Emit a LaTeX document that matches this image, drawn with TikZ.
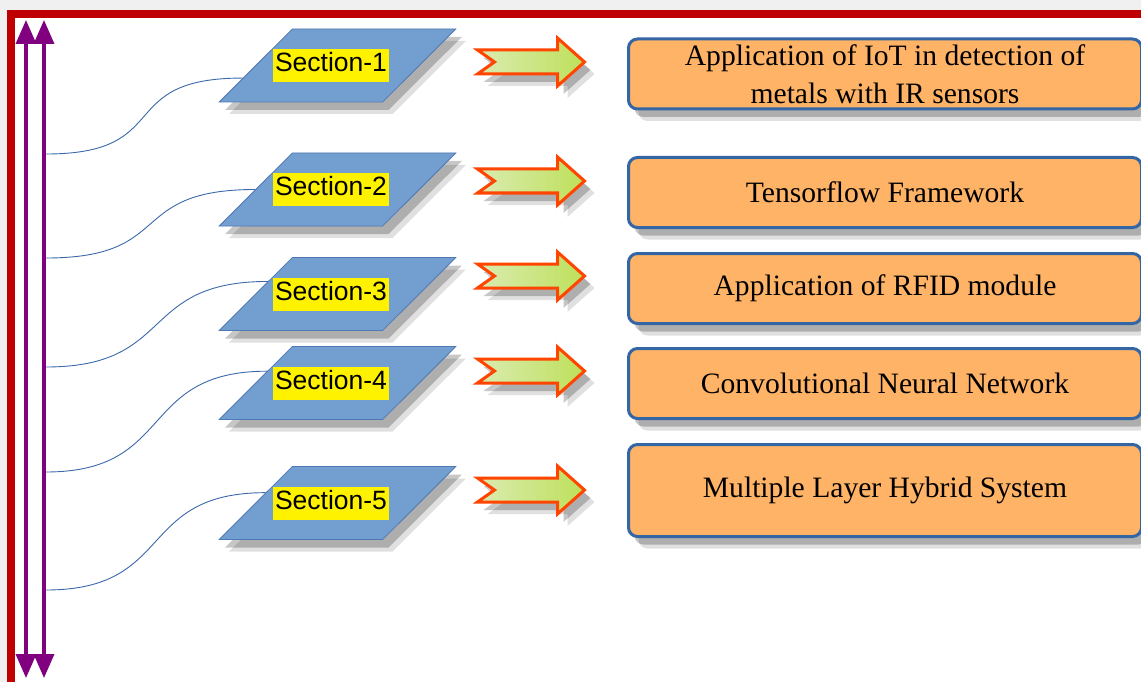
\documentclass[tikz,border=0pt]{standalone}
\usepackage{fontspec}
\setmainfont{Liberation Serif}
\setsansfont{Liberation Sans}
\usetikzlibrary{shapes.geometric,arrows.meta,shadows,calc}

\begin{document}
\begin{tikzpicture}[x=1pt,y=-1pt,
		softshadow/.style={drop shadow={shadow xshift=10pt, shadow yshift=-12pt, fill=black, opacity=.12},
			drop shadow={shadow xshift=6pt, shadow yshift=-8pt, fill=black, opacity=.22}},
		secshape/.style={trapezium, trapezium left angle=51, trapezium right angle=129, trapezium stretches=true,
			minimum width=237pt, minimum height=73pt, inner sep=5pt, fill=secblue, draw=secedge, line width=0.8pt, softshadow},
		seclabel/.style={fill=yellow, inner xsep=2pt, inner ysep=3pt, text height=20pt, text depth=7pt,
			font=\sffamily\fontsize{26.5}{30}\selectfont},
		topicbox/.style={draw=boxedge, fill=boxfill, line width=3pt, rounded corners=9pt, minimum width=513pt,
			minimum height=70pt, align=center, font=\fontsize{29.6}{38}\selectfont, softshadow},
		link/.style={draw=linkblue, line width=0.9pt},
		sidearrow/.style={draw=sidepurple, line width=3.5pt, {Triangle[length=24pt,width=20pt]}-{Triangle[length=24pt,width=20pt]}},
		blockarrow/.pic={
			\path[draw=arrowred, line width=3pt, left color=arrowgreenL, right color=arrowgreenR, softshadow]
				(-54,-12) -- (26,-12) -- (26,-24) -- (53,0) -- (26,24) -- (26,12) -- (-54,12) -- (-37,0) -- cycle;
		}]
		% Define colors
		\definecolor{framered}{RGB}{192,0,0}
		\definecolor{sidepurple}{RGB}{128,0,128}
		\definecolor{secblue}{RGB}{114,159,207}
		\definecolor{secedge}{RGB}{80,120,180}
		\definecolor{linkblue}{RGB}{60,105,170}
		\definecolor{boxfill}{RGB}{255,179,102}
		\definecolor{boxedge}{RGB}{52,101,164}
		\definecolor{arrowred}{RGB}{255,69,0}
		\definecolor{arrowgreenL}{RGB}{218,236,178}
		\definecolor{arrowgreenR}{RGB}{190,224,90}
		% Page and frame
		\useasboundingbox (0,0) rectangle (1141,682);
		\fill[gray!12] (0,0) rectangle (1141,682);
		\fill[white] (11,14) rectangle (1150,686);
		\draw[framered, line width=8pt] (11,14) rectangle (1150,686);
		% Vertical arrows on the left
		\coordinate (l1top) at (26,20);
		\coordinate (l1bot) at (26,678);
		\coordinate (l2top) at (44,20);
		\coordinate (l2bot) at (44,678);
		\draw[sidearrow] (l1top) -- (l1bot);
		\draw[sidearrow] (l2top) -- (l2bot);
		% Sections
		\node[secshape] (p1) at (337.5,65.5) {};
		\node[seclabel] (s1) at (331,65.5) {Section-1};
		\node[secshape] (p2) at (337.5,189.5) {};
		\node[seclabel] (s2) at (331,189.5) {Section-2};
		\node[secshape] (p3) at (337.5,294) {};
		\node[seclabel] (s3) at (331,294) {Section-3};
		\node[secshape] (p4) at (337.5,383) {};
		\node[seclabel] (s4) at (331,383) {Section-4};
		\node[secshape] (p5) at (337.5,503) {};
		\node[seclabel] (s5) at (331,503) {Section-5};
		% Links from the left arrow to the sections
		\coordinate (c1) at (46,154);
		\coordinate (c2) at (46,258);
		\coordinate (c3) at (46,367);
		\coordinate (c4) at (46,472);
		\coordinate (c5) at (46,590);
		\draw[link] (c1) .. controls +(130,0) and +(-130,0) .. ($(p1.top left corner)!0.67!(p1.bottom left corner)$);
		\draw[link] (c2) .. controls +(130,0) and +(-130,0) .. ($(p2.top left corner)!0.5!(p2.bottom left corner)$);
		\draw[link] (c3) .. controls +(130,0) and +(-130,0) .. ($(p3.top left corner)!0.33!(p3.bottom left corner)$);
		\draw[link] (c4) .. controls +(130,0) and +(-130,0) .. ($(p4.top left corner)!0.34!(p4.bottom left corner)$);
		\draw[link] (c5) .. controls +(130,0) and +(-130,0) .. ($(p5.top left corner)!0.36!(p5.bottom left corner)$);
		% Block arrows
		\pic at (531.5,62) {blockarrow};
		\pic at (531.5,181) {blockarrow};
		\pic at (531.5,276) {blockarrow};
		\pic at (531.5,371) {blockarrow};
		\pic at (531.5,490) {blockarrow};
		% Topic boxes
		\node[topicbox] (b1) at (885,74) {Application of IoT in detection of\\metals with IR sensors};
		\node[topicbox] (b2) at (885,192.5) {Tensorflow Framework};
		\node[topicbox] (b3) at (885,288.5) {Application of RFID module};
		\node[topicbox] (b4) at (885,383.5) {Convolutional Neural Network};
		\node[topicbox, minimum height=92pt] (b5) at (885,490.5) {Multiple Layer Hybrid System};
	\end{tikzpicture}
\end{document}
